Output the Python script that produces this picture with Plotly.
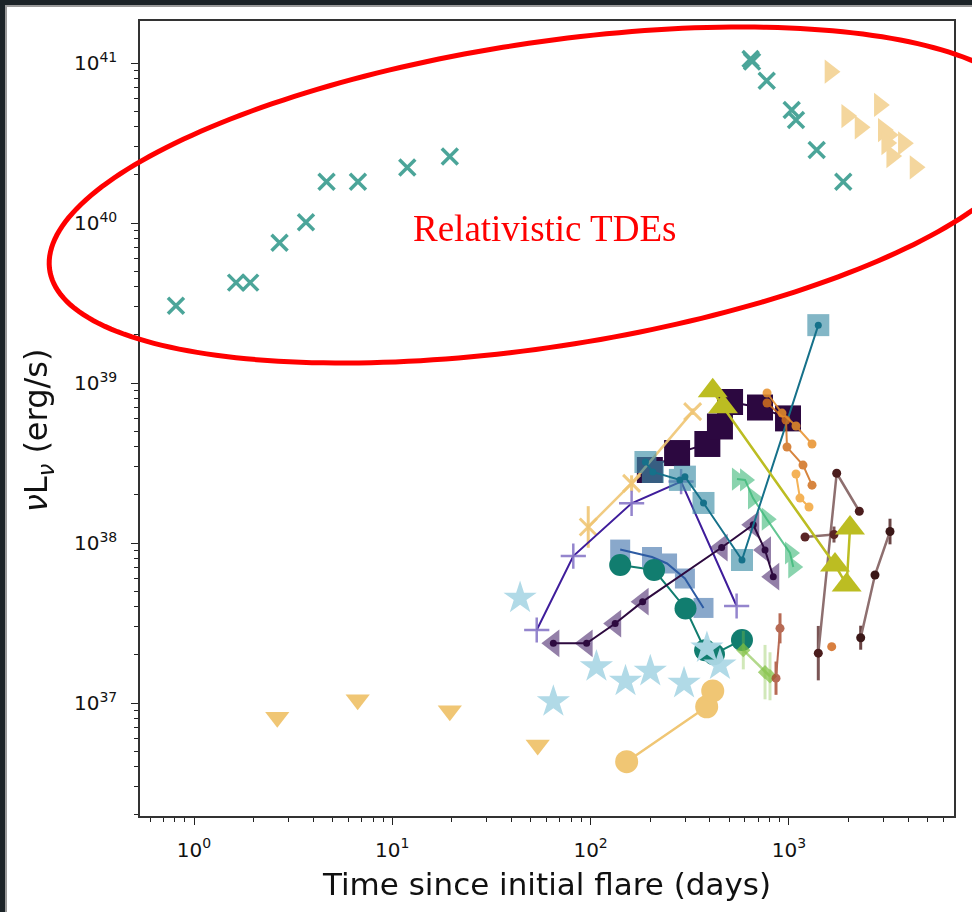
import numpy as np
import plotly.graph_objects as go

# ---------------- data: time since flare (days), nuL_nu (erg/s) ----------------
rel_cross_t = [0.811, 1.63, 1.92, 2.70, 3.67, 4.66, 6.71, 11.9, 19.5, 641, 652, 773, 1033, 1086, 1381, 1880]
rel_cross_l = [3.04e39, 4.24e39, 4.24e39, 7.53e39, 1.01e40, 1.81e40, 1.81e40, 2.22e40, 2.60e40,
               1.06e41, 1.02e41, 7.75e40, 5.09e40, 4.40e40, 2.86e40, 1.81e40]

rel_tri_t = [1611, 2858, 1956, 2284, 2992, 3170, 3776, 3298, 4325, 3113]
rel_tri_l = [8.83e40, 5.47e40, 4.66e40, 3.96e40, 3.81e40, 3.55e40, 3.15e40, 2.62e40, 2.23e40, 3.16e40]

ul_t = [2.63, 6.69, 19.5, 54.1]
ul_l = [8.15e36, 1.05e37, 8.95e36, 5.47e36]

tanc_t = [152, 385, 413]
tanc_l = [4.30e36, 9.48e36, 1.19e37]
tanc_err = [0.06, 0.0, 0.0]

star_t = [44.1, 64.9, 107, 150, 200, 296, 386, 449]
star_l = [4.53e37, 1.02e37, 1.69e37, 1.37e37, 1.58e37, 1.33e37, 2.21e37, 1.73e37]

tealc_t = [141, 209, 301, 378, 419, 580]
tealc_l = [7.29e37, 6.78e37, 3.90e37, 2.14e37, 2.02e37, 2.48e37]

blsq_t = [141, 204, 243, 299, 371]
blsq_l = [9.10e37, 8.18e37, 7.45e37, 6.00e37, 3.93e37]

tbsq_t = [189, 206, 282, 299, 371, 580, 1407]
tbsq_l = [3.21e38, 2.78e38, 2.48e38, 2.60e38, 1.78e38, 7.83e37, 2.30e39]

pusq_t = [199, 273, 388, 449, 505, 715, 990]
pusq_l = [2.86e38, 3.65e38, 4.16e38, 5.35e38, 7.61e38, 7.03e38, 6.01e38]

olive_t = [413, 465, 1708, 1956, 2033]
olive_l = [8.95e38, 7.11e38, 7.29e37, 5.47e37, 1.24e38]

orA_t = [776, 967, 978, 1178, 1308]
orA_l = [7.50e38, 5.87e38, 3.98e38, 3.07e38, 2.30e38]
orB_t = [776, 923, 1086, 1308]
orB_l = [8.66e38, 6.49e38, 5.39e38, 4.16e38]
orC_t = [1086, 1137, 1263]
orC_l = [2.70e38, 1.91e38, 1.68e38]

m1_t = [1407, 1742, 2265]
m1_l = [2.05e37, 2.73e38, 1.58e38]
m1_err = [0.17, 0.0, 0.0]
m2_t = [1206, 1688]
m2_l = [1.09e38, 1.13e38]
m2_err = [0.0, 0.05]
m3_t = [2302, 2717, 3235]
m3_l = [2.56e37, 6.31e37, 1.18e38]
m3_err = [0.075, 0.0, 0.08]

si_t = [902, 861]
si_l = [2.93e37, 1.43e37]
si_err = [0.094, 0.104]

single_t = [1644]
single_l = [2.25e37]

lime_t = [589, 758, 803]
lime_l = [2.14e37, 1.56e37, 1.47e37]
lime_err = [0.12, 0.17, 0.15]

green_t = [547, 601, 659, 773, 1013, 1052]
green_l = [2.51e38, 2.48e38, 1.91e38, 1.41e38, 8.66e37, 7.08e37]

ptri_t = [64.9, 95.5, 133, 183, 458, 661, 758, 834]
ptri_l = [2.36e37, 2.36e37, 3.14e37, 4.30e37, 9.37e37, 1.30e38, 9.04e37, 6.16e37]

plus_t = [53.5, 81.8, 161, 286, 545]
plus_l = [2.86e37, 8.29e37, 1.77e38, 2.42e38, 4.04e37]

tanx_t = [97.3, 161, 327]
tanx_l = [1.26e38, 2.36e38, 6.62e38]
tanx_err = [0.13, 0.05, 0.02]

x_tickvals = [1, 10, 100, 1000]
x_ticktext = ["10<sup>0</sup>", "10<sup>1</sup>", "10<sup>2</sup>", "10<sup>3</sup>"]
y_tickvals = [1e37, 1e38, 1e39, 1e40, 1e41]
y_ticktext = ["10<sup>37</sup>", "10<sup>38</sup>", "10<sup>39</sup>", "10<sup>40</sup>", "10<sup>41</sup>"]

# ---------------- helpers ----------------
def yerr(vals, dex):
    v = np.array(vals, float); d = np.array(dex, float)
    return dict(type="data", symmetric=False, array=[float(a) for a in v * (10 ** d - 1)],
                arrayminus=[float(a) for a in v * (1 - 10 ** (-d))], thickness=3, width=0)

fig = go.Figure()

def line(t, l, color, width=2, dot=0, opacity=1.0, err=None, errcolor=None):
    kw = {}
    if err is not None:
        e = yerr(l, err); e["color"] = errcolor or color
        kw["error_y"] = e
    fig.add_trace(go.Scatter(x=t, y=l, mode="lines+markers" if dot else "lines",
                             line=dict(color=color, width=width),
                             marker=dict(size=dot, color=color), opacity=opacity, **kw))

def mark(t, l, symbol, size, color, opacity=1.0, lw=0, lcolor=None, err=None, errcolor=None):
    kw = {}
    if err is not None:
        e = yerr(l, err); e["color"] = errcolor or color
        kw["error_y"] = e
    fig.add_trace(go.Scatter(x=t, y=l, mode="markers", opacity=opacity,
                             marker=dict(symbol=symbol, size=size, color=color,
                                         line=dict(width=lw, color=lcolor or color)), **kw))

# dark purple squares
line(pusq_t, pusq_l, "#2c0840", 2)
mark(pusq_t, pusq_l, "square", 26, "#2c0840")
# tan crosses
line(tanx_t, tanx_l, "#f0c674", 2.5, opacity=0.9, err=tanx_err)
mark(tanx_t, tanx_l, "x-thin", 17, "#f0c674", 0.9, lw=3)
# indigo plus
line(plus_t, plus_l, "#3f1d9b", 2)
mark(plus_t, plus_l, "cross-thin", 18, "#8878c8", 0.9, lw=2.5)
# blue squares
mark(blsq_t, blsq_l, "square", 20, "#4a7ab0", 0.65)
line(blsq_t, blsq_l, "#2d5ba3", 2)
# teal circles
line(tealc_t, tealc_l, "#117d6f", 2)
mark(tealc_t, tealc_l, "circle", 22, "#117d6f")
# light blue stars
mark(star_t, star_l, "star", 25, "#add8e6", 0.95)
# purple left triangles
mark(ptri_t, ptri_l, "triangle-left", 24, "#4b2a6e", 0.6)
line(ptri_t, ptri_l, "#2d0a3f", 2, dot=7)
# green right triangles
line(green_t, green_l, "#3cb878", 2, opacity=0.8)
mark(green_t, green_l, "triangle-right", 20, "#3cb878", 0.6)
# lime diamonds
line(lime_t, lime_l, "#80c040", 2.5, opacity=0.6, err=lime_err, errcolor="rgba(128,192,64,0.6)")
mark(lime_t, lime_l, "diamond", 11, "#80c040", 0.7)
# tan circles
line(tanc_t, tanc_l, "#f0c674", 2.5, err=tanc_err)
mark(tanc_t, tanc_l, "circle", 23, "#f0c674")
# tan down triangles (upper limits)
mark(ul_t, ul_l, "triangle-down", 21, "#f0c674")
# teal-blue squares
mark(tbsq_t, tbsq_l, "square", 22, "#3f8ea8", 0.65)
line(tbsq_t, tbsq_l, "#16718a", 2, dot=7)
# orange series
line(orA_t, orA_l, "#d0701e", 2, dot=9, opacity=0.85)
line(orB_t, orB_l, "#e8902a", 2, dot=9, opacity=0.85)
line(orC_t, orC_l, "#f2a53a", 2, dot=9, opacity=0.85)
# sienna
line(si_t, si_l, "#a5452a", 2, dot=9, opacity=0.8, err=si_err)
mark(single_t, single_l, "circle", 9, "#d2691e", 0.85)
# maroon series
line(m1_t, m1_l, "#8e6f6f", 2.5, err=m1_err, errcolor="#7a5555")
mark(m1_t, m1_l, "circle", 9, "#4b1d1d")
line(m2_t, m2_l, "#8e6f6f", 2.5, err=m2_err, errcolor="#7a5555")
mark(m2_t, m2_l, "circle", 9, "#5a2525")
line(m3_t, m3_l, "#8e6f6f", 2.5, err=m3_err, errcolor="#6a4545")
mark(m3_t, m3_l, "circle", 9, "#3b1818")
# olive triangles
line(olive_t, olive_l, "#bcbd22", 2.5)
mark(olive_t, olive_l, "triangle-up", 26, "#bcbd22")
# relativistic TDEs
mark(rel_tri_t, rel_tri_l, "triangle-right", 21, "#f0c674", 0.7)
mark(rel_cross_t, rel_cross_l, "x-thin", 16, "#1f8f80", 0.8, lw=3.5)

# ---------------- layout ----------------
L, R, T, B = 140, 954, 21, 816
W, H = R - L, B - T

def px(x):
    return (x - L) / W

def py(y):
    return (B - y) / H

cx, cy, ea, eb, th = 542, 195, 498, 152, np.radians(8.685)
tt = np.linspace(0, 2 * np.pi, 240)
ex = cx + ea * np.cos(tt) * np.cos(th) + eb * np.sin(tt) * np.sin(th)
ey = cy - ea * np.cos(tt) * np.sin(th) + eb * np.sin(tt) * np.cos(th)
path = "M " + " L ".join(f"{px(a):.5f},{py(b):.5f}" for a, b in zip(ex, ey)) + " Z"

x_minor = [float(m * 10.0 ** k) for k in range(-1, 4) for m in range(2, 10) if 0.53 < m * 10.0 ** k < 6800]
y_minor = [float(m * 10.0 ** k) for k in range(36, 42) for m in range(2, 10) if 1.97e36 < m * 10.0 ** k < 1.8e41]

tickfont = dict(size=20, family="DejaVu Sans", color="#111")
fig.update_layout(
    width=972, height=912,
    margin=dict(l=L, r=972 - R, t=T, b=912 - B),
    paper_bgcolor="#1b2327", plot_bgcolor="white",
    showlegend=False,
    font=dict(family="DejaVu Sans", color="#222"),
    xaxis=dict(type="log", range=[-0.2723, 3.8326], tickmode="array", tickvals=x_tickvals,
               ticktext=x_ticktext, ticks="outside", ticklen=7, tickwidth=1.2, tickcolor="#222",
               showline=True, mirror=True, linecolor="#333", linewidth=1.5, ticklabelstandoff=8,
               showgrid=False, zeroline=False, tickfont=tickfont,
               minor=dict(tickmode="array", tickvals=x_minor, ticks="outside", ticklen=4,
                          tickwidth=1, tickcolor="#222", showgrid=False)),
    yaxis=dict(type="log", range=[36.294, 41.2625], tickmode="array", tickvals=y_tickvals,
               ticktext=y_ticktext, ticks="outside", ticklen=7, tickwidth=1.2, tickcolor="#222",
               showline=True, mirror=True, linecolor="#333", linewidth=1.5, ticklabelstandoff=10,
               showgrid=False, zeroline=False, tickfont=tickfont,
               minor=dict(tickmode="array", tickvals=y_minor, ticks="outside", ticklen=4,
                          tickwidth=1, tickcolor="#222", showgrid=False)),
    shapes=[
        dict(type="rect", xref="paper", yref="paper", x0=px(6), x1=px(990), y0=py(930), y1=py(6),
             fillcolor="white", line=dict(color="#9a9a9a", width=2), layer="below"),
        dict(type="path", xref="paper", yref="paper", path=path,
             line=dict(color="#ff0000", width=5), layer="above"),
    ],
    annotations=[
        dict(text="Relativistic TDEs", xref="paper", yref="paper", x=px(544), y=py(228),
             xanchor="center", yanchor="middle", showarrow=False,
             font=dict(family="Liberation Serif", size=37, color="#ff0000")),
        dict(text="Time since initial flare (days)", xref="paper", yref="paper",
             x=px(546), y=py(884), xanchor="center", yanchor="middle", showarrow=False,
             font=dict(size=31, family="DejaVu Sans", color="#111")),
        dict(text="<i>ν</i>L<sub><i>ν</i></sub> (erg/s)", xref="paper", yref="paper",
             x=px(38), y=py(430), xanchor="center", yanchor="middle", showarrow=False, textangle=-90,
             font=dict(size=32, family="DejaVu Sans", color="#111")),
    ],
)

fig.write_html("out.html")
